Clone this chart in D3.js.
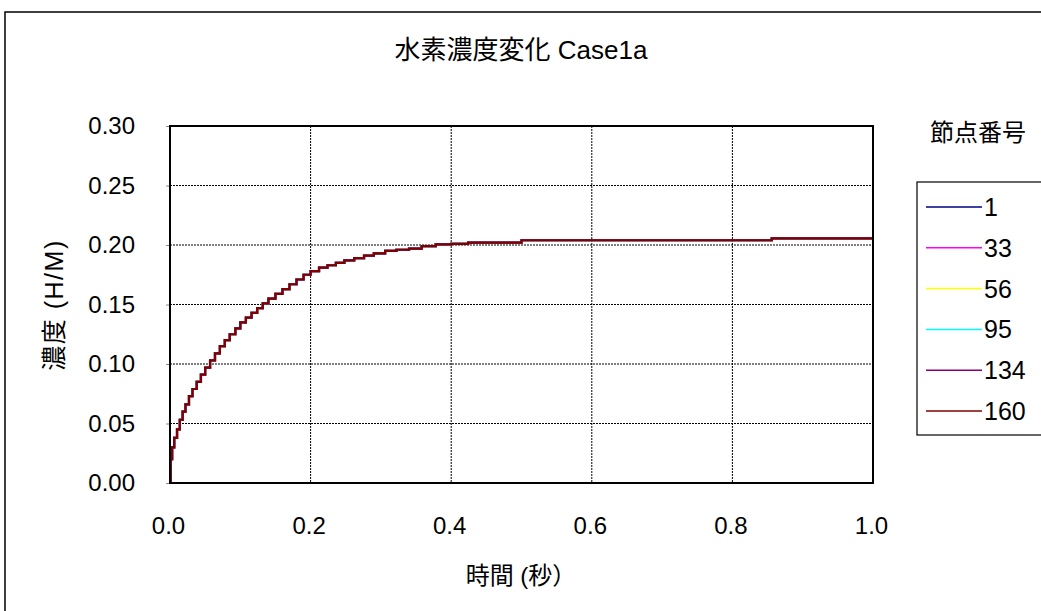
<!DOCTYPE html>
<html><head><meta charset="utf-8">
<script src="https://cdn.jsdelivr.net/npm/d3@7"></script>
<style>body{margin:0;background:#fff}svg{display:block}</style>
</head><body><svg id="c" width="1041" height="611"></svg>
<script>
const title = "水素濃度変化 Case1a";
const xLabel = "時間 (秒）";
const yLabel = "濃度 (H/M)";
const legendTitle = "節点番号";
const nodes = ["1", "33", "56", "95", "134", "160"];
const colors = ["#000080", "#ff00ff", "#ffff00", "#00ffff", "#800080", "#800000"];
const xTicks = [0, 0.2, 0.4, 0.6, 0.8, 1.0];
const yTicks = [0, 0.05, 0.10, 0.15, 0.20, 0.25, 0.30];
// time (s)
const times = [0.000,0.001,0.003,0.006,0.010,0.014,0.018,0.022,0.027,0.032,0.038,0.044,0.050,0.057,0.064,0.071,0.078,0.085,0.093,0.100,0.108,0.116,0.124,0.132,0.140,0.150,0.160,0.170,0.180,0.190,0.200,0.212,0.224,0.236,0.248,0.262,0.276,0.290,0.306,0.322,0.340,0.358,0.378,0.400,0.424,0.500,0.856,1.000];
// concentration (H/M); all six nodes overlap in the picture
const conc = [0.000,0.020,0.030,0.038,0.045,0.053,0.060,0.066,0.073,0.079,0.085,0.091,0.097,0.103,0.109,0.115,0.120,0.125,0.130,0.135,0.139,0.143,0.147,0.151,0.155,0.159,0.163,0.167,0.171,0.175,0.178,0.181,0.183,0.185,0.187,0.189,0.191,0.193,0.195,0.196,0.197,0.199,0.2005,0.201,0.202,0.204,0.2055,0.2055];
const series1 = conc, series33 = conc, series56 = conc, series95 = conc, series134 = conc, series160 = conc;
const seriesValues = [series1, series33, series56, series95, series134, series160];

const svg = d3.select("#c");
const font = "'Liberation Sans', Arial, sans-serif";
const cjk = "'Liberation Sans', 'Noto Sans CJK JP', sans-serif";
const L = 170, R = 873, T = 126, B = 483;
const x = d3.scaleLinear().domain([0, 1]).range([L, R]);
const y = d3.scaleLinear().domain([0, 0.3]).range([B, T]);

// outer frame
svg.append("rect").attr("x", 5).attr("y", 12).attr("width", 1100).attr("height", 700)
  .attr("fill", "#fff").attr("stroke", "#000").attr("stroke-width", 1.5);

// grid
svg.append("g").selectAll("line").data(yTicks.slice(1, -1)).join("line")
  .attr("x1", L).attr("x2", R).attr("y1", d => y(d)).attr("y2", d => y(d))
  .attr("stroke", "#000").attr("stroke-width", 1).attr("stroke-dasharray", "2,1");
svg.append("g").selectAll("line").data(xTicks.slice(1, -1)).join("line")
  .attr("y1", T).attr("y2", B).attr("x1", d => x(d)).attr("x2", d => x(d))
  .attr("stroke", "#000").attr("stroke-width", 1).attr("stroke-dasharray", "2,1");

// axes
const yAxis = svg.append("g").attr("transform", `translate(${L},0)`)
  .call(d3.axisLeft(y).tickValues(yTicks).tickFormat(d3.format(".2f")).tickSize(4).tickPadding(31));
const xAxis = svg.append("g").attr("transform", `translate(-2,${B})`)
  .call(d3.axisBottom(x).tickValues(xTicks).tickFormat(d3.format(".1f")).tickSize(0).tickPadding(34));
[yAxis, xAxis].forEach(a => {
  a.select(".domain").remove();
  a.selectAll("text").attr("font-family", font).attr("font-size", 24).attr("fill", "#000");
  a.selectAll("line").attr("stroke", "#888");
});

// lines
const line = d3.line().x((d, i) => x(times[i])).y(d => y(d)).curve(d3.curveStepAfter);
svg.append("g").selectAll("path").data(seriesValues).join("path")
  .attr("d", d => line(d)).attr("fill", "none")
  .attr("stroke", (d, i) => colors[i]).attr("stroke-width", 2.2);

// plot border
svg.append("rect").attr("x", L).attr("y", T).attr("width", R - L).attr("height", B - T)
  .attr("fill", "none").attr("stroke", "#000").attr("stroke-width", 2);

// titles
svg.append("text").attr("x", 521).attr("y", 59).attr("text-anchor", "middle")
  .attr("font-family", cjk).attr("font-size", 26).text(title);
svg.append("text").attr("x", 521).attr("y", 584).attr("text-anchor", "middle")
  .attr("font-family", cjk).attr("font-size", 24).text(xLabel);
svg.append("text").attr("transform", "translate(54,305) rotate(-90)").attr("text-anchor", "middle")
  .attr("dy", "0.36em").attr("font-family", cjk).attr("font-size", 25).attr("letter-spacing", 1.5).text(yLabel);

// legend
svg.append("text").attr("x", 1026).attr("y", 141).attr("text-anchor", "end")
  .attr("font-family", cjk).attr("font-size", 24).text(legendTitle);
svg.append("rect").attr("x", 917).attr("y", 182).attr("width", 200).attr("height", 253)
  .attr("fill", "#fff").attr("stroke", "#000").attr("stroke-width", 1.2);
const ly = d3.scalePoint().domain(nodes).range([207, 411]);
const lg = svg.append("g").selectAll("g").data(nodes).join("g")
  .attr("transform", d => `translate(0,${ly(d)})`);
lg.append("line").attr("x1", 926).attr("x2", 982).attr("stroke", (d, i) => colors[i]).attr("stroke-width", 1.5);
lg.append("text").attr("x", 984).attr("y", 9).attr("font-family", font).attr("font-size", 25).text(d => d);
</script></body></html>
